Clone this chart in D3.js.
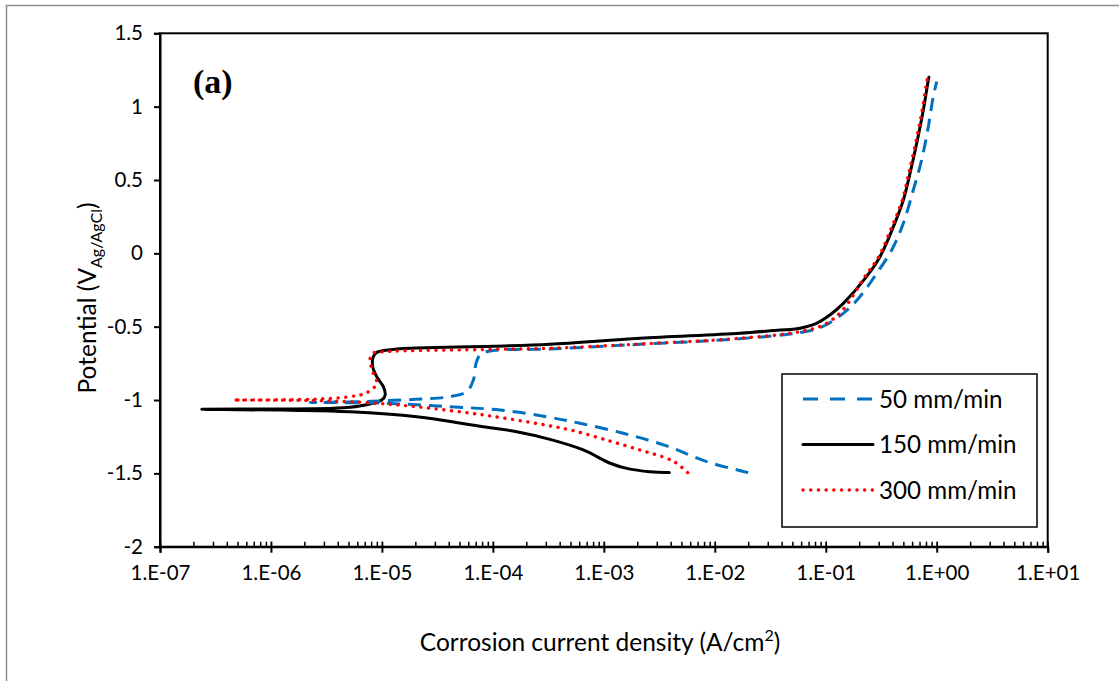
<!DOCTYPE html>
<html>
<head>
<meta charset="utf-8">
<script src="https://cdn.jsdelivr.net/npm/d3@7"></script>
<style>
  body { margin: 0; background: #fff; }
  text { font-family: Lato, "Open Sans", sans-serif; fill: #000; }
</style>
</head>
<body>
<script>
// current density (A/cm2) and potential (V), cathodic end -> Ecorr -> anodic end
const i50 = [2.0e-2, 8.45e-3, 3.68e-3, 1.5e-3, 6.1e-4, 3.05e-4, 1.16e-4, 4.11e-5, 1.03e-5, 2.25e-6, 6e-6, 1.03e-5, 2.36e-5, 4.11e-5, 5.8e-5, 6.67e-5, 7.05e-5, 7.66e-5, 9.4e-5, 3.27e-4, 2.12e-3, 1.69e-2, 5.86e-2, 9.0e-2, 0.144, 0.203, 0.288, 0.393, 0.50, 0.615, 0.73, 0.84, 0.93, 1.0];
const e50 = [-1.495, -1.420, -1.313, -1.227, -1.159, -1.114, -1.068, -1.046, -1.022, -1.016, -1.012, -1.005, -0.993, -0.977, -0.943, -0.864, -0.750, -0.693, -0.666, -0.652, -0.620, -0.582, -0.540, -0.505, -0.409, -0.296, -0.136, 0.023, 0.205, 0.432, 0.636, 0.863, 1.068, 1.17];

const i150 = [3.89e-3, 2.61e-3, 1.61e-3, 1.14e-3, 6.53e-4, 3.27e-4, 1.64e-4, 8.2e-5, 2.06e-5, 5.15e-6, 1.5e-6, 5e-7, 2.38e-7, 8e-7, 3.65e-6, 6.3e-6, 9.96e-6, 1.07e-5, 1.03e-5, 8.98e-6, 8.26e-6, 8.36e-6, 8.98e-6, 1.31e-5, 1e-4, 3.27e-4, 2.12e-3, 1.69e-2, 3.87e-2, 5.1e-2, 8.26e-2, 0.109, 0.144, 0.233, 0.308, 0.407, 0.50, 0.574, 0.66, 0.757, 0.84, 0.85];
const e150 = [-1.495, -1.489, -1.466, -1.431, -1.340, -1.268, -1.216, -1.182, -1.114, -1.080, -1.07, -1.066, -1.063, -1.061, -1.056, -1.041, -1.0, -0.966, -0.909, -0.841, -0.773, -0.705, -0.675, -0.654, -0.634, -0.620, -0.579, -0.545, -0.523, -0.518, -0.477, -0.420, -0.341, -0.159, -0.023, 0.182, 0.364, 0.545, 0.75, 0.977, 1.182, 1.2];

const i300 = [5.69e-3, 4.53e-3, 3.68e-3, 2.12e-3, 1.06e-3, 5.3e-4, 2.95e-4, 8.2e-5, 2.06e-5, 7.29e-6, 2.25e-6, 4.58e-7, 2.25e-6, 5.15e-6, 7.29e-6, 8.98e-6, 8.26e-6, 7.8e-6, 8.26e-6, 1.03e-5, 1e-4, 3.27e-4, 2.12e-3, 1.69e-2, 5.86e-2, 9.5e-2, 0.138, 0.225, 0.30, 0.395, 0.49, 0.56, 0.645, 0.74, 0.82, 0.83];
const e300 = [-1.495, -1.431, -1.397, -1.341, -1.273, -1.209, -1.170, -1.102, -1.046, -1.018, -1.003, -1.0, -0.995, -0.977, -0.950, -0.886, -0.807, -0.727, -0.682, -0.671, -0.655, -0.647, -0.618, -0.579, -0.534, -0.489, -0.398, -0.159, -0.023, 0.182, 0.364, 0.545, 0.75, 0.977, 1.182, 1.195];

const seriesNames = ["50 mm/min", "150 mm/min", "300 mm/min"];
const yTicks = [-2, -1.5, -1, -0.5, 0, 0.5, 1, 1.5];
const xTicks = [1e-7, 1e-6, 1e-5, 1e-4, 1e-3, 1e-2, 1e-1, 1e0, 1e1];

const width = 1119;
const height = 681;
const plotL = 160, plotR = 1047.7, plotT = 33.3, plotB = 546.7;

const svg = d3.select("body")
    .append("svg")
    .attr("width", width)
    .attr("height", height);

svg.append("rect").attr("width", width).attr("height", height).attr("fill", "#fff");

// grey outer frame (only left / top edges show)
svg.append("path")
    .attr("d", `M6.5,${height} L6.5,5.5 L${width},5.5`)
    .attr("fill", "none")
    .attr("stroke", "#8f8f8f")
    .attr("stroke-width", 1.5);

const x = d3.scaleLog().domain([1e-7, 1e1]).range([plotL, plotR]);
const y = d3.scaleLinear().domain([-2, 1.5]).range([plotB, plotT]);

// plot border
svg.append("rect")
    .attr("x", plotL).attr("y", plotT)
    .attr("width", plotR - plotL).attr("height", plotB - plotT)
    .attr("fill", "none")
    .attr("stroke", "#000")
    .attr("stroke-width", 2);

const fmtX = d => {
    const p = Math.round(Math.log10(d));
    return "1.E" + (p < 0 ? "-" : "+") + String(Math.abs(p)).padStart(2, "0");
};

// minor ticks (inside) for every decade
const minor = [];
for (let p = -7; p < 1; p++) for (let k = 1; k <= 10; k++) minor.push(k * Math.pow(10, p));

svg.append("g")
    .attr("transform", `translate(0,${plotB})`)
    .call(d3.axisBottom(x).tickValues(minor).tickSize(-5).tickFormat(""))
    .call(g => g.select(".domain").remove())
    .call(g => g.selectAll("line").attr("stroke-width", 1.5));

const xAxis = svg.append("g")
    .attr("transform", `translate(0,${plotB})`)
    .call(d3.axisBottom(x).tickValues(xTicks).tickSize(6).tickPadding(13).tickFormat(fmtX));
xAxis.select(".domain").attr("stroke-width", 2);
xAxis.selectAll("line").attr("stroke-width", 2);
xAxis.selectAll("text").style("font-size", "20.5px").style("font-family", "Lato");

const yAxis = svg.append("g")
    .attr("transform", `translate(${plotL},0)`)
    .call(d3.axisLeft(y).tickValues(yTicks).tickSize(6).tickPadding(11).tickFormat(d => String(d)));
yAxis.select(".domain").attr("stroke-width", 2);
yAxis.selectAll("line").attr("stroke-width", 2);
yAxis.selectAll("text").style("font-size", "20.5px").style("font-family", "Lato");

// axis titles
const xt = svg.append("text")
    .attr("x", 600).attr("y", 651)
    .attr("text-anchor", "middle")
    .style("font-size", "24.5px");
xt.append("tspan").text("Corrosion current density (A/cm");
xt.append("tspan").attr("dy", -10).style("font-size", "16px").text("2");
xt.append("tspan").attr("dy", 10).text(")");

const yt = svg.append("text")
    .attr("transform", "translate(96,298) rotate(-90)")
    .attr("text-anchor", "middle")
    .style("font-size", "24.5px");
yt.append("tspan").text("Potential (V");
yt.append("tspan").attr("dy", 6).style("font-size", "16px").text("Ag/AgCl");
yt.append("tspan").attr("dy", -6).text(")");

svg.append("text")
    .attr("x", 193).attr("y", 93)
    .style("font-family", "'Liberation Serif', 'DejaVu Serif', serif")
    .style("font-weight", "bold")
    .style("font-size", "34px")
    .text("(a)");

const line = d3.line()
    .x(d => x(d[0]))
    .y(d => y(d[1]))
    .curve(d3.curveCatmullRom.alpha(0.5));

const series = [
    { name: seriesNames[0], pts: d3.zip(i50, e50), color: "#0070C0", dash: "13,8", cap: "butt" },
    { name: seriesNames[1], pts: d3.zip(i150, e150), color: "#000000", dash: null, cap: "round" },
    { name: seriesNames[2], pts: d3.zip(i300, e300), color: "#FF0000", dash: "0.1,7.6", cap: "round" }
];

const plot = svg.append("g");
// draw black first, then blue, then red on top
[series[1], series[0], series[2]].forEach(s => {
    plot.append("path")
        .datum(s.pts)
        .attr("fill", "none")
        .attr("stroke", s.color)
        .attr("stroke-width", s.name === seriesNames[2] ? 3.4 : 3)
        .attr("stroke-linecap", s.cap)
        .attr("stroke-linejoin", "round")
        .attr("stroke-dasharray", s.dash)
        .attr("d", line);
});

// legend
const lg = svg.append("g");
lg.append("rect")
    .attr("x", 782).attr("y", 374)
    .attr("width", 255).attr("height", 153)
    .attr("fill", "#fff")
    .attr("stroke", "#000")
    .attr("stroke-width", 1.5);

series.forEach((s, k) => {
    const cy = 399 + k * 45.5;
    lg.append("line")
        .attr("x1", 803).attr("x2", 873)
        .attr("y1", cy).attr("y2", cy)
        .attr("stroke", s.color)
        .attr("stroke-width", s.name === seriesNames[2] ? 3.4 : 3)
        .attr("stroke-linecap", s.cap)
        .attr("stroke-dasharray", s.name === seriesNames[0] ? "15,12" : s.dash);
    lg.append("text")
        .attr("x", 879).attr("y", cy)
        .attr("dy", "0.36em")
        .style("font-size", "24.2px")
        .text(s.name);
});
</script>
</body>
</html>
